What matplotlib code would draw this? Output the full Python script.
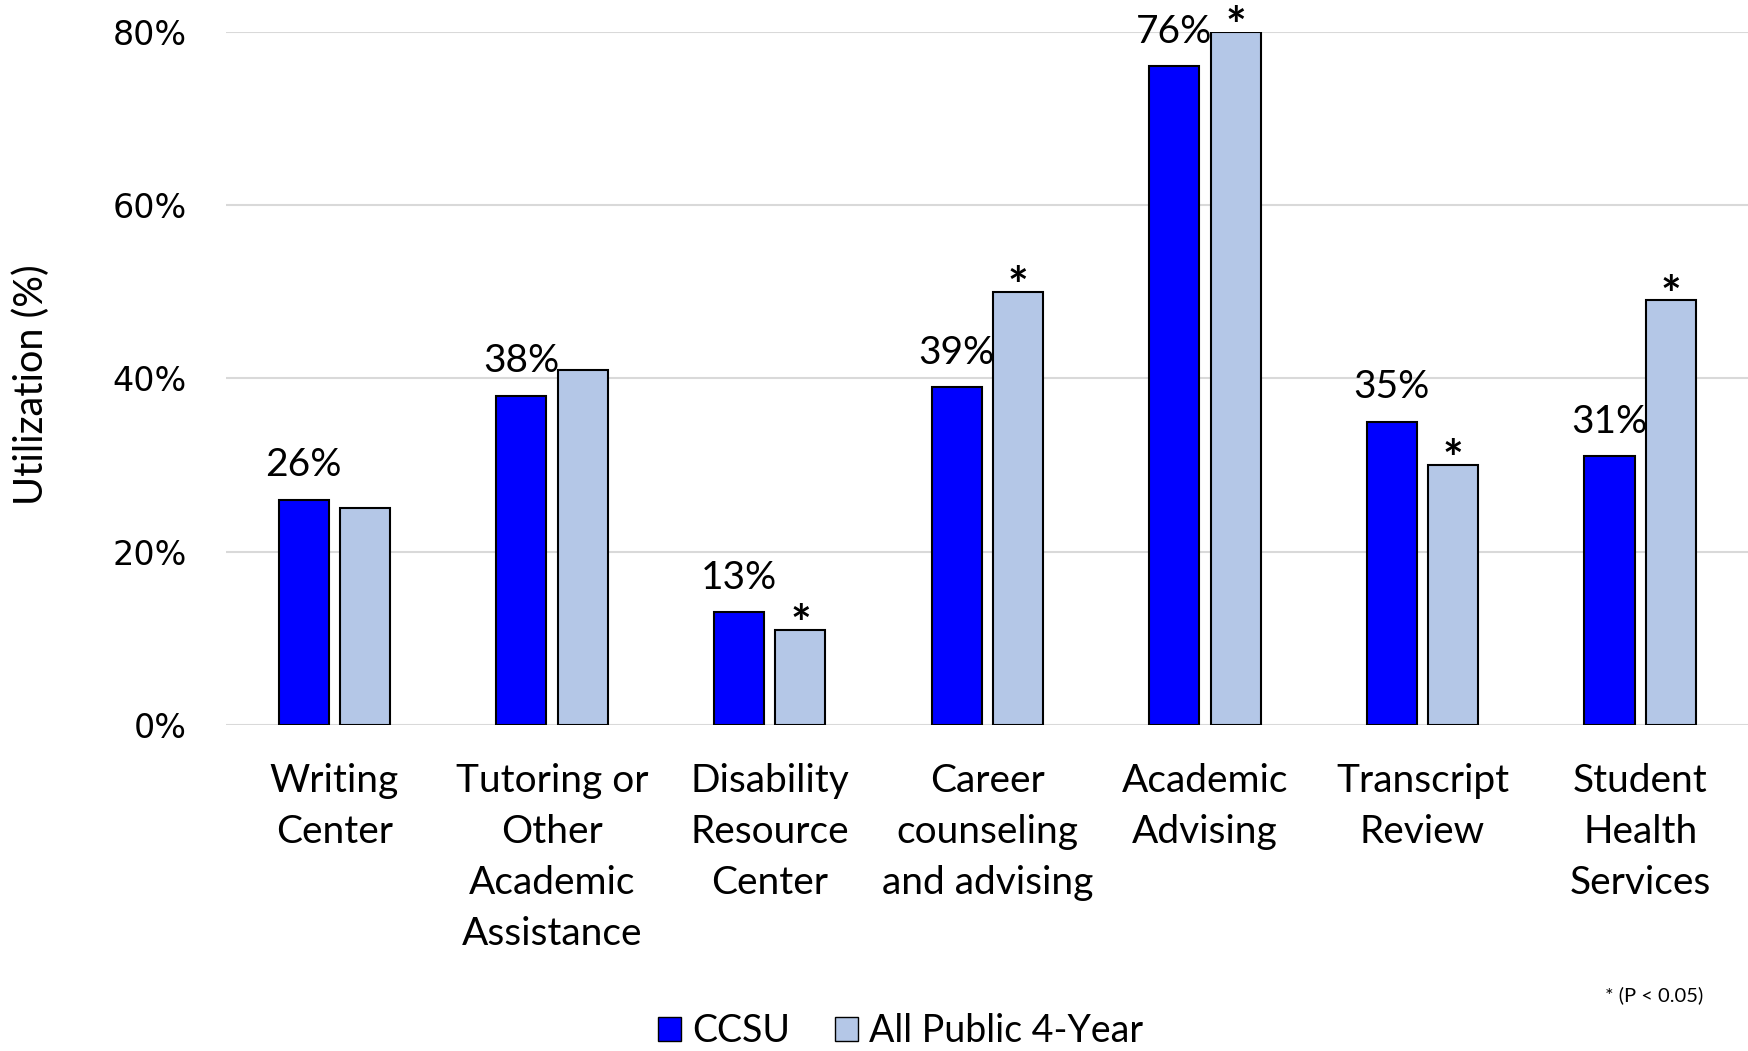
import numpy as np
import matplotlib.pyplot as plt
from matplotlib.patches import Patch

categories = ["Writing\nCenter", "Tutoring or\nOther\nAcademic\nAssistance",
              "Disability\nResource\nCenter", "Career\ncounseling\nand advising",
              "Academic\nAdvising", "Transcript\nReview", "Student\nHealth\nServices"]
ccsu = [26, 38, 13, 39, 76, 35, 31]
public4 = [25, 41, 11, 50, 80, 30, 49]
significant = [False, False, True, True, True, True, True]

blue = "#0000FF"
light = "#B4C7E7"
txt_font = "Lato"

fig = plt.figure(figsize=(17.49, 10.51), dpi=100)
ax = fig.add_axes([0.129, 0.310, 0.871, 0.660])

x = np.arange(len(categories))
w = 0.23
off = 0.141
ax.bar(x - off, ccsu, w, color=blue, edgecolor="black", linewidth=1.5, zorder=3)
ax.bar(x + off, public4, w, color=light, edgecolor="black", linewidth=1.5, zorder=3)

# etiquetas de valor sobre las barras de CCSU
for xi, v in zip(x, ccsu):
    ax.text(xi - off, v + 1.9, f"{v}%", ha="center", va="bottom",
            fontsize=28, family=txt_font)

# asterisco de significancia
for xi, v, s in zip(x, public4, significant):
    if s:
        ax.text(xi + off, v - 1.3, "*", ha="center", va="baseline",
                fontsize=35, family=txt_font, fontweight="bold", zorder=4)

ax.set_xlim(-0.5, 6.5)
ax.set_ylim(0, 80)
ax.set_yticks([0, 20, 40, 60, 80])
ax.set_yticklabels([f"{t}%" for t in [0, 20, 40, 60, 80]], fontsize=24, family="DejaVu Sans")
ax.set_xticks(x)
ax.set_xticklabels(categories, fontsize=28, family=txt_font, linespacing=1.52)
ax.tick_params(axis="both", length=0)
ax.tick_params(axis="x", pad=27)
ax.tick_params(axis="y", pad=28)
ax.grid(axis="y", color="#d9d9d9", linewidth=1.5, zorder=0)
ax.set_axisbelow(True)
for sp in ax.spines.values():
    sp.set_visible(False)

fig.text(0.018, 0.634, "Utilization (%)", rotation=90, ha="center", va="center",
         fontsize=28.5, family=txt_font)

handles = [Patch(facecolor=blue, edgecolor="black", label="CCSU"),
           Patch(facecolor=light, edgecolor="black", label="All Public 4-Year")]
fig.legend(handles=handles, loc="center", bbox_to_anchor=(0.515, 0.019), ncol=2,
           frameon=False, prop={"family": txt_font, "size": 27},
           handlelength=0.6, handleheight=0.6, handletextpad=0.3, columnspacing=1.2)

fig.text(0.946, 0.053, "* (P < 0.05)", ha="center", va="center", fontsize=14.5, family=txt_font)

fig.savefig("out.png", dpi=100)
